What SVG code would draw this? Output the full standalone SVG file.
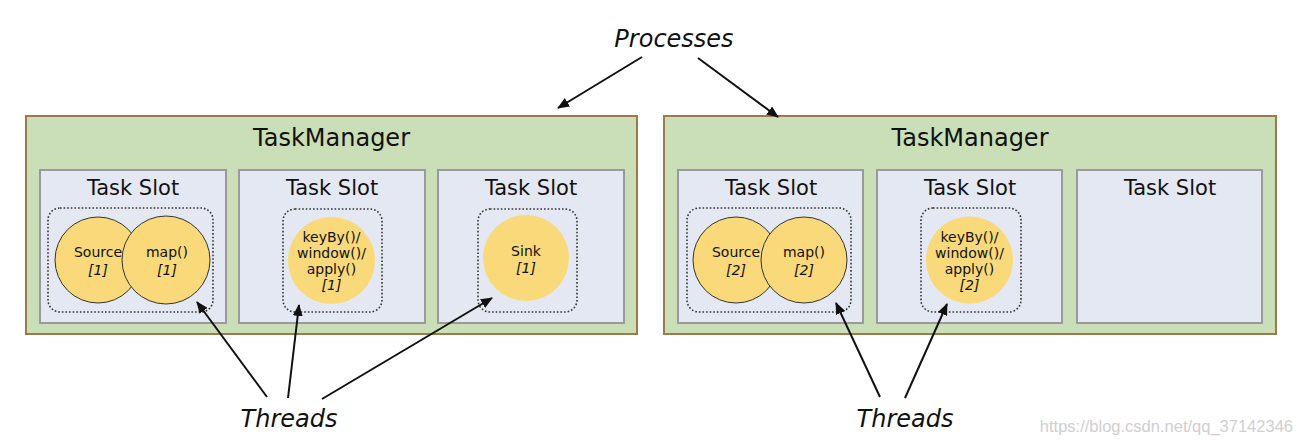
<svg xmlns="http://www.w3.org/2000/svg" width="1303" height="445" viewBox="0 0 1303 445">
<style>
text{font-family:"DejaVu Sans",Verdana,sans-serif;fill:#111;text-anchor:middle}
.tm{fill:#cadfb8;stroke:#9c7a4c;stroke-width:2}
.slot{fill:#e4e8f2;stroke:#9a9a9e;stroke-width:2}
.thr{fill:none;stroke:#333;stroke-width:1.6;stroke-dasharray:1.6 2}
.op{fill:#f9d97a;stroke:#333;stroke-width:1}
.opn{fill:#f9d97a;stroke:none}
.tmt{font-size:24px}
.st{font-size:21px}
.ot{font-size:14px}
.it{font-style:italic}
.lbl{font-size:24px;font-style:italic}
.conn line{stroke:#111;stroke-width:2;marker-end:url(#ah)}
</style>
<defs>
<marker id="ah" markerUnits="userSpaceOnUse" markerWidth="12" markerHeight="10" refX="11" refY="5" orient="auto">
<path d="M0,0 L12,5 L0,10 z" fill="#111"/>
</marker>
</defs>
<rect width="1303" height="445" fill="#fff"/>

<g id="tm1">
<rect class="tm" x="26" y="116" width="611" height="218"/>
<text class="tmt" x="331.5" y="146">TaskManager</text>
</g>
<g id="tm1-slot1">
<rect class="slot" x="40" y="170" width="186" height="153"/>
<text class="st" x="133" y="195">Task Slot</text>
<rect class="thr" x="48" y="208" width="165" height="104" rx="12"/>
<circle class="op" cx="98" cy="260" r="43"/>
<text class="ot" x="98" y="257">Source</text>
<text class="ot it" x="98" y="275">[1]</text>
<circle class="op" cx="166" cy="260" r="44"/>
<text class="ot" x="167" y="257">map()</text>
<text class="ot it" x="167" y="275">[1]</text>
</g>
<g id="tm1-slot2">
<rect class="slot" x="239" y="170" width="186" height="153"/>
<text class="st" x="332" y="195">Task Slot</text>
<rect class="thr" x="283" y="209" width="99" height="103" rx="12"/>
<circle class="opn" cx="331.5" cy="260.5" r="43.5"/>
<text class="ot" x="331.5" y="242">keyBy()/</text>
<text class="ot" x="331.5" y="258">window()/</text>
<text class="ot" x="331.5" y="274">apply()</text>
<text class="ot it" x="331.5" y="290">[1]</text>
</g>
<g id="tm1-slot3">
<rect class="slot" x="438" y="170" width="186" height="153"/>
<text class="st" x="531" y="195">Task Slot</text>
<rect class="thr" x="478" y="209" width="99" height="103" rx="12"/>
<circle class="opn" cx="526" cy="258" r="43"/>
<text class="ot" x="526" y="256">Sink</text>
<text class="ot it" x="526" y="273">[1]</text>
</g>

<g id="tm2">
<rect class="tm" x="664" y="116" width="612" height="218"/>
<text class="tmt" x="970" y="146">TaskManager</text>
</g>
<g id="tm2-slot1">
<rect class="slot" x="678" y="170" width="185" height="153"/>
<text class="st" x="771" y="195">Task Slot</text>
<rect class="thr" x="687" y="208" width="164" height="104" rx="12"/>
<circle class="op" cx="736" cy="260" r="43"/>
<text class="ot" x="736" y="257">Source</text>
<text class="ot it" x="736" y="275">[2]</text>
<circle class="op" cx="804" cy="260" r="43"/>
<text class="ot" x="804" y="257">map()</text>
<text class="ot it" x="804" y="275">[2]</text>
</g>
<g id="tm2-slot2">
<rect class="slot" x="877" y="170" width="185" height="153"/>
<text class="st" x="970" y="195">Task Slot</text>
<rect class="thr" x="921" y="208" width="100" height="104" rx="12"/>
<circle class="opn" cx="969.5" cy="260" r="43.5"/>
<text class="ot" x="969.5" y="242">keyBy()/</text>
<text class="ot" x="969.5" y="258">window()/</text>
<text class="ot" x="969.5" y="274">apply()</text>
<text class="ot it" x="969.5" y="290">[2]</text>
</g>
<g id="tm2-slot3">
<rect class="slot" x="1077" y="170" width="185" height="153"/>
<text class="st" x="1170" y="195">Task Slot</text>
</g>

<g id="processes-label">
<text class="lbl" x="674" y="47">Processes</text>
</g>
<g id="threads-label-1">
<text class="lbl" x="289" y="427">Threads</text>
</g>
<g id="threads-label-2">
<text class="lbl" x="905" y="427">Threads</text>
</g>

<g id="connectors" class="conn">
<line x1="642" y1="57" x2="558" y2="108"/>
<line x1="698" y1="58" x2="778" y2="117"/>
<line x1="267" y1="397" x2="197" y2="302"/>
<line x1="288" y1="398" x2="299" y2="305"/>
<line x1="322" y1="399" x2="492" y2="298"/>
<line x1="880" y1="397" x2="836" y2="303"/>
<line x1="905" y1="398" x2="947" y2="304"/>
</g>

<text x="1293" y="432" style="font-family:'Liberation Sans',Arial,sans-serif;font-size:16.5px;fill:#cfcfcf;text-anchor:end">https://blog.csdn.net/qq_37142346</text>
</svg>
